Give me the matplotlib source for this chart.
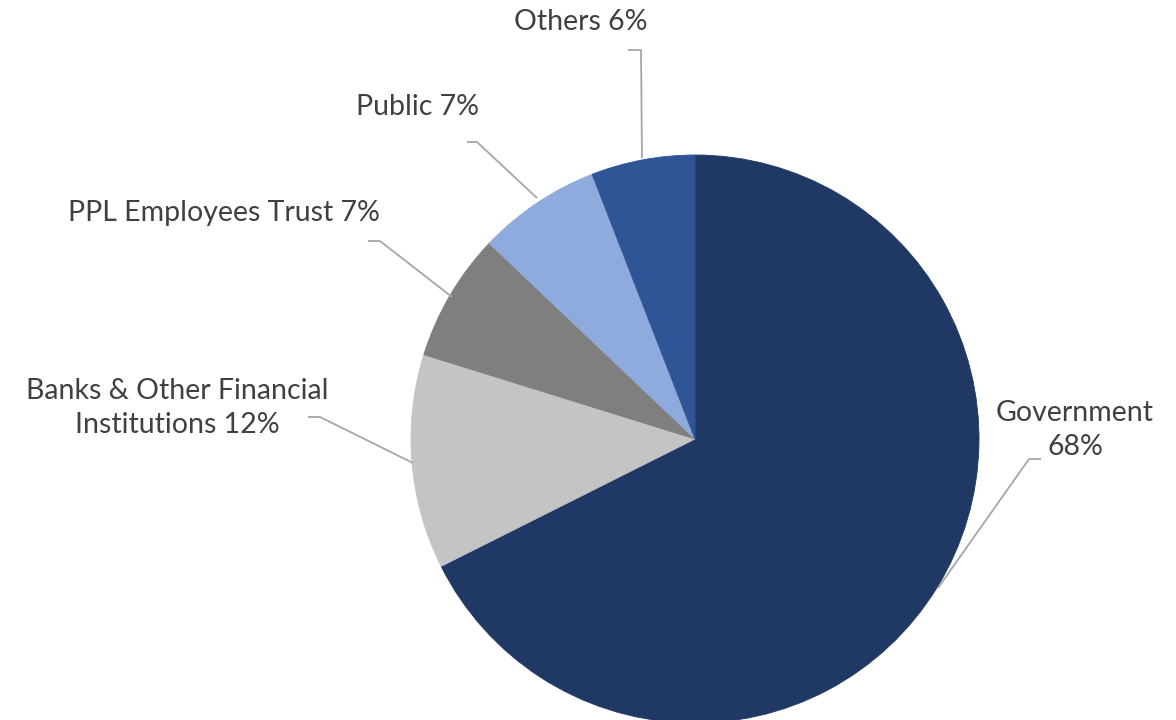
import matplotlib.pyplot as plt

# ownership split (slice sizes, labels show rounded %)
labels = ['Government', 'Banks & Other Financial\nInstitutions', 'PPL Employees Trust', 'Public', 'Others']
shares = [67.6, 12.2, 7.3, 7.0, 5.9]
colors = ['#203864', '#C4C4C4', '#7F7F7F', '#8FAADC', '#2F5597']

W, H = 1176, 720
fig = plt.figure(figsize=(W / 100, H / 100), dpi=100)
ax = fig.add_axes([0, 0, 1, 1])


def py(y):
    # pixel row (from top) -> data y
    return H - y


wedges, _ = ax.pie(shares, colors=colors, startangle=90, counterclock=False,
                   center=(695, py(439)), radius=284, frame=True)
for w, c in zip(wedges, colors):
    # hide the antialias seams between slices
    w.set_edgecolor(c)
    w.set_linewidth(0.6)
ax.set_xlim(0, W)
ax.set_ylim(0, H)
ax.axis('off')

# label text positions and leader lines (pixel coords)
text_pos = [(1075, 430), (177, 408), (224, 213), (418, 107), (581, 22)]
leaders = [
    [(1041, 459), (1029, 459), (938, 588)],
    [(308, 417), (320, 417), (413, 463)],
    [(368, 241), (380, 241), (452, 297)],
    [(467, 142), (477, 142), (537, 198)],
    [(628, 50), (641, 50), (642, 158)],
]

for i, (lab, v) in enumerate(zip(labels, shares)):
    if i == 0:
        txt = f'{lab}\n{round(v)}%'
    else:
        txt = f'{lab} {round(v)}%'
    x, y = text_pos[i]
    ax.text(x, py(y), txt, ha='center', va='center', fontsize=20.5,
            family='Lato', color='#404040', linespacing=1.4)
    xs = [p[0] for p in leaders[i]]
    ys = [py(p[1]) for p in leaders[i]]
    ax.plot(xs, ys, color='#A6A6A6', lw=1.3, solid_capstyle='butt')

fig.savefig('out.png', dpi=100)
